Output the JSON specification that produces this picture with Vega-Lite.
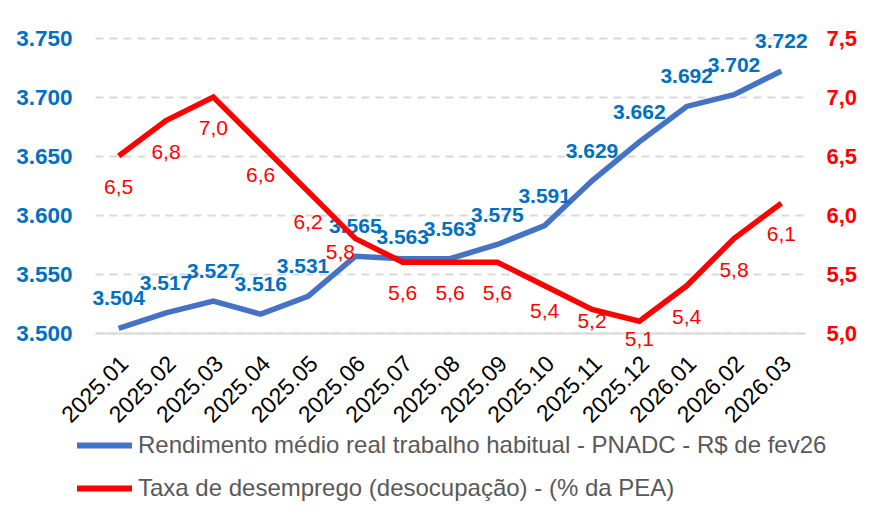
{
  "$schema": "https://vega.github.io/schema/vega-lite/v6.json",
  "width": 710,
  "height": 295,
  "autosize": {"type": "none"},
  "padding": {"left": 95, "top": 38, "right": 71, "bottom": 180},
  "background": "white",
  "config": {
    "locale": {"number": {"decimal": ",", "thousands": ".", "grouping": [3], "currency": ["R$", ""]}},
    "view": {"stroke": null},
    "font": "Liberation Sans"
  },
  "data": {
    "values": [
      {"mes": "2025.01", "rend": 3504, "taxa": 6.5},
      {"mes": "2025.02", "rend": 3517, "taxa": 6.8},
      {"mes": "2025.03", "rend": 3527, "taxa": 7.0},
      {"mes": "2025.04", "rend": 3516, "taxa": 6.6},
      {"mes": "2025.05", "rend": 3531, "taxa": 6.2},
      {"mes": "2025.06", "rend": 3565, "taxa": 5.8},
      {"mes": "2025.07", "rend": 3563, "taxa": 5.6},
      {"mes": "2025.08", "rend": 3563, "taxa": 5.6},
      {"mes": "2025.09", "rend": 3575, "taxa": 5.6},
      {"mes": "2025.10", "rend": 3591, "taxa": 5.4},
      {"mes": "2025.11", "rend": 3629, "taxa": 5.2},
      {"mes": "2025.12", "rend": 3662, "taxa": 5.1},
      {"mes": "2026.01", "rend": 3692, "taxa": 5.4},
      {"mes": "2026.02", "rend": 3702, "taxa": 5.8},
      {"mes": "2026.03", "rend": 3722, "taxa": 6.1}
    ]
  },
  "encoding": {
    "x": {
      "field": "mes",
      "type": "ordinal",
      "sort": null,
      "scale": {"type": "point", "padding": 0.5},
      "axis": {
        "title": null,
        "labelAngle": -45,
        "labelAlign": "right",
        "labelBaseline": "top",
        "labelFontSize": 23,
        "labelColor": "#000000",
        "labelPadding": 19,
        "labelOffset": -2,
        "ticks": false,
        "grid": false,
        "domainColor": "#D9D9D9",
        "domainWidth": 2
      }
    }
  },
  "layer": [
    {
      "layer": [
        {
          "mark": {"type": "line", "strokeWidth": 5.5},
          "encoding": {
            "y": {
              "field": "rend",
              "type": "quantitative",
              "scale": {"domain": [3500, 3750], "nice": false, "zero": false},
              "axis": {
                "title": null,
                "values": [3500, 3550, 3600, 3650, 3700, 3750],
                "format": ",.0f",
                "labelFontSize": 22.5,
                "labelFontWeight": "bold",
                "labelColor": "#0070C0",
                "labelPadding": 23,
                "ticks": false,
                "domain": false,
                "grid": true,
                "gridColor": "#D9D9D9",
                "gridWidth": 2,
                "gridDash": [8, 6]
              }
            },
            "color": {
              "datum": "Rendimento médio real trabalho habitual - PNADC - R$ de fev26",
              "type": "nominal",
              "scale": {
                "domain": [
                  "Rendimento médio real trabalho habitual - PNADC - R$ de fev26",
                  "Taxa de desemprego (desocupação) - (% da PEA)"
                ],
                "range": ["#4472C4", "#FF0000"]
              },
              "legend": {
                "title": null,
                "orient": "none",
                "legendX": -21,
                "legendY": 377,
                "direction": "vertical",
                "symbolType": "stroke",
                "symbolSize": 3025,
                "symbolStrokeWidth": 6,
                "labelFontSize": 24,
                "labelColor": "#595959",
                "labelOffset": 3,
                "rowPadding": -13,
                "labelLimit": 800
              }
            }
          }
        },
        {
          "transform": [{"filter": "datum.mes !== '2025.05' && datum.mes !== '2025.07'"}],
          "mark": {"type": "text", "dy": -29, "fontSize": 21, "fontWeight": "bold", "color": "#0070C0"},
          "encoding": {
            "y": {"field": "rend", "type": "quantitative"},
            "text": {"field": "rend", "type": "quantitative", "format": ",.0f"}
          }
        },
        {
          "transform": [{"filter": "datum.mes === '2025.05'"}],
          "mark": {"type": "text", "dy": -29, "dx": -5, "fontSize": 21, "fontWeight": "bold", "color": "#0070C0"},
          "encoding": {
            "y": {"field": "rend", "type": "quantitative"},
            "text": {"field": "rend", "type": "quantitative", "format": ",.0f"}
          }
        },
        {
          "transform": [{"filter": "datum.mes === '2025.07'"}],
          "mark": {"type": "text", "dy": -21, "fontSize": 21, "fontWeight": "bold", "color": "#0070C0"},
          "encoding": {
            "y": {"field": "rend", "type": "quantitative"},
            "text": {"field": "rend", "type": "quantitative", "format": ",.0f"}
          }
        }
      ]
    },
    {
      "layer": [
        {
          "mark": {"type": "line", "strokeWidth": 5.5},
          "encoding": {
            "y": {
              "field": "taxa",
              "type": "quantitative",
              "scale": {"domain": [5, 7.5], "nice": false, "zero": false},
              "axis": {
                "title": null,
                "orient": "right",
                "values": [5, 5.5, 6, 6.5, 7, 7.5],
                "format": ".1f",
                "labelFontSize": 22,
                "labelFontWeight": "bold",
                "labelColor": "#FF0000",
                "labelPadding": 21,
                "ticks": false,
                "domain": false,
                "grid": false
              }
            },
            "color": {"datum": "Taxa de desemprego (desocupação) - (% da PEA)", "type": "nominal"}
          }
        },
        {
          "transform": [{"filter": "indexof(['2025.06','2025.10','2025.11','2025.12'], datum.mes) < 0"}],
          "mark": {"type": "text", "dy": 32, "fontSize": 21, "color": "#FF0000"},
          "encoding": {
            "y": {"field": "taxa", "type": "quantitative"},
            "text": {"field": "taxa", "type": "quantitative", "format": ".1f"}
          }
        },
        {
          "transform": [{"filter": "datum.mes === '2025.06'"}],
          "mark": {"type": "text", "dy": 14, "dx": -15, "fontSize": 21, "color": "#FF0000"},
          "encoding": {
            "y": {"field": "taxa", "type": "quantitative"},
            "text": {"field": "taxa", "type": "quantitative", "format": ".1f"}
          }
        },
        {
          "transform": [{"filter": "datum.mes === '2025.10'"}],
          "mark": {"type": "text", "dy": 26, "fontSize": 21, "color": "#FF0000"},
          "encoding": {
            "y": {"field": "taxa", "type": "quantitative"},
            "text": {"field": "taxa", "type": "quantitative", "format": ".1f"}
          }
        },
        {
          "transform": [{"filter": "datum.mes === '2025.11'"}],
          "mark": {"type": "text", "dy": 13, "fontSize": 21, "color": "#FF0000"},
          "encoding": {
            "y": {"field": "taxa", "type": "quantitative"},
            "text": {"field": "taxa", "type": "quantitative", "format": ".1f"}
          }
        },
        {
          "transform": [{"filter": "datum.mes === '2025.12'"}],
          "mark": {"type": "text", "dy": 19, "fontSize": 21, "color": "#FF0000"},
          "encoding": {
            "y": {"field": "taxa", "type": "quantitative"},
            "text": {"field": "taxa", "type": "quantitative", "format": ".1f"}
          }
        }
      ]
    }
  ],
  "resolve": {"scale": {"y": "independent"}}
}
